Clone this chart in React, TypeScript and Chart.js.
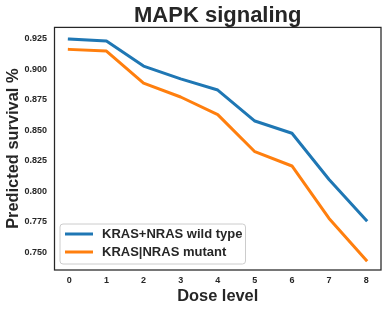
import { useEffect, useRef } from "react";
import { Chart, registerables } from "chart.js";

Chart.register(...registerables);

const doseLevels = [0, 1, 2, 3, 4, 5, 6, 7, 8];
const wildType = [0.9248, 0.9231, 0.9026, 0.8921, 0.883, 0.8576, 0.8476, 0.8097, 0.7764];
const mutant = [0.9163, 0.9149, 0.8887, 0.8773, 0.8629, 0.8325, 0.8208, 0.7778, 0.7437];
const yTickValues = [0.75, 0.775, 0.8, 0.825, 0.85, 0.875, 0.9, 0.925];
const seriesLabels = ["KRAS+NRAS wild type", "KRAS|NRAS mutant"];
const seriesColors = ["#1f77b4", "#ff7f0e"];
const chartTitle = "MAPK signaling";
const xTitle = "Dose level";
const yTitle = "Predicted survival %";

const FONT = "'Liberation Sans', Arial, sans-serif";
const TEXT = "#262626";

const framePlugin = {
  id: "frame",
  afterDatasetsDraw(chart: any) {
    const { ctx, chartArea: a } = chart;
    ctx.save();
    ctx.strokeStyle = TEXT;
    ctx.lineWidth = 1.25;
    ctx.strokeRect(a.left, a.top, a.right - a.left, a.bottom - a.top);
    ctx.restore();
  },
};

const legendPlugin = {
  id: "innerLegend",
  afterDatasetsDraw(chart: any) {
    const { ctx, chartArea: a } = chart;
    const ds = chart.data.datasets;
    const x0 = a.left + 5.5;
    const y0 = a.bottom - 46;
    const w = 185.5;
    const h = 40;
    ctx.save();
    ctx.beginPath();
    const r = 3;
    ctx.moveTo(x0 + r, y0);
    ctx.arcTo(x0 + w, y0, x0 + w, y0 + h, r);
    ctx.arcTo(x0 + w, y0 + h, x0, y0 + h, r);
    ctx.arcTo(x0, y0 + h, x0, y0, r);
    ctx.arcTo(x0, y0, x0 + w, y0, r);
    ctx.closePath();
    ctx.fillStyle = "rgba(255,255,255,0.8)";
    ctx.fill();
    ctx.strokeStyle = "#cccccc";
    ctx.lineWidth = 1;
    ctx.stroke();
    ds.forEach((d: any, i: number) => {
      const cy = y0 + 10 + i * 18;
      ctx.beginPath();
      ctx.moveTo(x0 + 5, cy);
      ctx.lineTo(x0 + 33, cy);
      ctx.strokeStyle = d.borderColor;
      ctx.lineWidth = 3;
      ctx.stroke();
      ctx.fillStyle = TEXT;
      ctx.font = `bold 13px ${FONT}`;
      ctx.textBaseline = "middle";
      ctx.textAlign = "left";
      ctx.fillText(d.label, x0 + 42, cy);
    });
    ctx.restore();
  },
};

export default function App() {
  const ref = useRef<HTMLCanvasElement>(null);
  useEffect(() => {
    if (!ref.current) return;
    const chart = new Chart(ref.current, {
      type: "line",
      data: {
        datasets: [wildType, mutant].map((vals, i) => ({
          label: seriesLabels[i],
          data: doseLevels.map((x, j) => ({ x, y: vals[j] })),
          borderColor: seriesColors[i],
          backgroundColor: seriesColors[i],
          borderWidth: 3,
          pointRadius: 0,
          tension: 0,
          borderJoinStyle: "round" as const,
          borderCapStyle: "square" as const,
        })),
      },
      plugins: [framePlugin, legendPlugin],
      options: {
        responsive: false,
        animation: false,
        layout: { padding: { left: 0, right: 10, top: 0, bottom: 0 } },
        plugins: {
          legend: { display: false },
          tooltip: { enabled: false },
          title: {
            display: true,
            text: chartTitle,
            fullSize: false,
            color: TEXT,
            font: { family: FONT, size: 22, weight: "bold", lineHeight: 1.2 },
            padding: { top: 3, bottom: -2 },
          },
        },
        scales: {
          x: {
            type: "linear",
            min: -0.4,
            max: 8.4,
            grid: { display: false, drawTicks: false },
            border: { display: false },
            afterBuildTicks: (s: any) => {
              s.ticks = doseLevels.map((v) => ({ value: v }));
            },
            afterFit: (s: any) => {
              s.height = 41;
            },
            ticks: {
              autoSkip: false,
              maxRotation: 0,
              padding: 5.5,
              color: TEXT,
              font: { family: FONT, size: 9, weight: "bold" },
              callback: (v: any) => String(v),
            },
            title: {
              display: true,
              text: xTitle,
              color: TEXT,
              font: { family: FONT, size: 16.4, weight: "bold", lineHeight: 1.2 },
              padding: { top: 0, bottom: 5 },
            },
          },
          y: {
            type: "linear",
            min: 0.7356,
            max: 0.9343,
            grid: { display: false, drawTicks: false },
            border: { display: false },
            afterBuildTicks: (s: any) => {
              s.ticks = yTickValues.map((v) => ({ value: v }));
            },
            afterFit: (s: any) => {
              s.width = 54.5;
            },
            ticks: {
              autoSkip: false,
              padding: 7.5,
              color: TEXT,
              font: { family: FONT, size: 9, weight: "bold" },
              callback: (v: any) => Number(v).toFixed(3),
            },
            title: {
              display: true,
              text: yTitle,
              color: TEXT,
              font: { family: FONT, size: 16.4, weight: "bold", lineHeight: 1.2 },
              padding: { top: 3.5, bottom: 0 },
            },
          },
        },
      } as any,
    });
    return () => chart.destroy();
  }, []);
  return (
    <div style={{ position: "fixed", left: 0, top: 0, width: 391, height: 311, background: "#fff" }}>
      <canvas ref={ref} width={391} height={311} style={{ width: 391, height: 311, display: "block" }} />
    </div>
  );
}
